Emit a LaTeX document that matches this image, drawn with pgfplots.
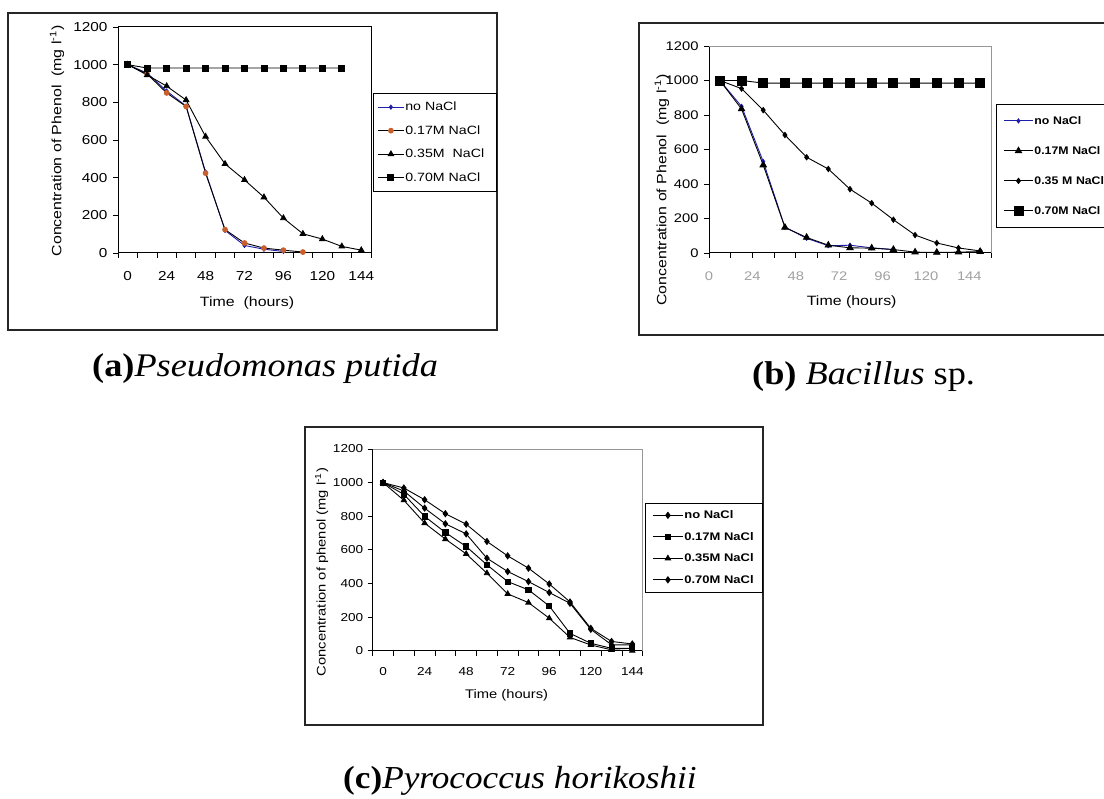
\documentclass[border=0pt]{standalone}
\usepackage{fontspec}
\usepackage{pgfplots}
\pgfplotsset{compat=1.18}
\newfontfamily\chartfont[FakeStretch=1.18]{Liberation Sans}
\newfontfamily\legfont[FakeStretch=1.12]{Liberation Sans}
\newfontfamily\capfont[FakeStretch=1.1]{Liberation Serif}
\definecolor{nacl0}{RGB}{30,30,170}
\definecolor{orangem}{RGB}{200,95,45}
\definecolor{bordergray}{RGB}{150,150,150}
\definecolor{ticklblgray}{RGB}{160,160,160}
\newcommand{\fs}[1]{\fontsize{#1}{#1}\selectfont}

\pgfplotsset{
  chartbase/.style={
    scale only axis, clip=false,
    axis lines*=left,
    axis line style={black, line width=1pt},
    tick align=outside,
    major tick length=5pt, minor tick length=5pt,
    tick style={black, line width=0.8pt},
    ymin=0, ymax=1200, ytick={0,200,...,1200},
    yticklabels={0,200,400,600,800,1000,1200},
    every axis plot/.append style={line width=0.9pt},
    legend cell align=left,
  },
}

\begin{document}
\begin{tikzpicture}[x=1pt,y=1pt]
\useasboundingbox (0,0) rectangle (1104,799);
\begin{scope}
\clip (0,0) rectangle (1104,799);

% frames
\draw[line width=1.2pt, black!85] (8,469) rectangle (497,786);
\draw[line width=1.2pt, black!85] (639,464) rectangle (1120,776);
\draw[line width=1.2pt, black!85] (305,74) rectangle (763,372);

% ---------------- (a) ----------------
\begin{axis}[chartbase,
  at={(118pt,546pt)}, anchor=south west, width=253pt, height=226pt,
  xmin=-6, xmax=150,
  xtick={0,24,...,144}, xticklabels={0,24,48,72,96,120,144},
  major x tick style={draw=none},
  minor xtick={-6,6,...,150},
  ticklabel style={font=\chartfont\fs{13}},
  xticklabel style={yshift=-10pt},
  yticklabel style={xshift=-2pt},
  xlabel={Time~~(hours)}, ylabel={Concentration of Phenol~~(mg l\textsuperscript{-1})},
  label style={font=\chartfont\fs{13.5}},
  xlabel style={at={(axis description cs:0.510,-0.221)}, anchor=center},
  ylabel style={at={(axis description cs:-0.241,0.496)}, anchor=center},
  legend image code/.code={\draw[mark repeat=2,mark phase=2] plot coordinates {(0pt,0pt) (13pt,0pt) (26pt,0pt)};},
  legend style={at={(axis description cs:1.008,0.708)}, anchor=north west,
    draw=black, line width=0.9pt, inner xsep=4pt, inner ysep=2pt,
    font=\chartfont\fs{12}, row sep=0pt,
    nodes={inner sep=1pt, text width=86pt, minimum height=23.5pt}},
]
\draw[black, line width=1pt] (rel axis cs:0,1) -- (rel axis cs:1,1) -- (rel axis cs:1,0);
\addplot[nacl0, mark=diamond*, mark size=2pt, mark options={fill=nacl0}] coordinates {
 (0,1000) (12,955) (24,860) (36,780) (48,430) (60,120) (72,40) (84,20) (96,8) };
\addlegendentry{no NaCl}
\addplot[black, mark=*, mark size=2.4pt, mark options={fill=orangem, draw=orangem}] coordinates {
 (0,1000) (12,950) (24,850) (36,778) (48,424) (60,124) (72,53) (84,26) (96,15) (108,5) };
\addlegendentry{0.17M NaCl}
\addplot[black, mark=triangle*, mark size=3.2pt] coordinates {
 (0,1000) (12,945) (24,886) (36,812) (48,618) (60,473) (72,388) (84,296) (96,185) (108,102) (120,74) (132,35) (144,15) };
\addlegendentry{0.35M\ \ NaCl}
\addplot[black, mark=square*, mark size=3pt] coordinates {
 (0,1000) (12,982) (24,982) (36,982) (48,982) (60,982) (72,982) (84,982) (96,982) (108,982) (120,982) (132,982) };
\addlegendentry{0.70M NaCl}
\end{axis}

% ---------------- (b) ----------------
\begin{axis}[chartbase,
  at={(709pt,546pt)}, anchor=south west, width=282pt, height=207pt,
  xmin=0, xmax=156,
  xtick={0,12,...,156}, xticklabels={0,,24,,48,,72,,96,,120,,144,,},
  ticklabel style={font=\chartfont\fs{12.5}},
  xticklabel style={yshift=-10pt, text=ticklblgray},
  yticklabel style={xshift=-2pt},
  xlabel={Time (hours)}, ylabel={Concentration of Phenol~~(mg l\textsuperscript{-1})},
  label style={font=\chartfont\fs{13.5}},
  xlabel style={at={(axis description cs:0.506,-0.237)}, anchor=center},
  ylabel style={at={(axis description cs:-0.167,0.304)}, anchor=center},
  legend image code/.code={\draw[mark repeat=2,mark phase=2] plot coordinates {(0pt,0pt) (14.5pt,0pt) (29pt,0pt)};},
  legend style={at={(axis description cs:1.018,0.720)}, anchor=north west,
    draw=black, line width=0.9pt, inner xsep=7pt, inner ysep=1.5pt,
    font=\legfont\bfseries\fs{11}, row sep=0pt,
    nodes={inner sep=1pt, text width=95pt, minimum height=30pt}},
]
\draw[bordergray, line width=0.9pt] (rel axis cs:0,1) -- (rel axis cs:1,1) -- (rel axis cs:1,0);
\addplot[nacl0, mark=diamond*, mark size=2pt, mark options={fill=nacl0}] coordinates {
 (6,1000) (18,850) (30,530) (42,150) (54,85) (66,42) (78,45) (90,30) (102,20) };
\addlegendentry{no NaCl}
\addplot[black, mark=triangle*, mark size=3.6pt] coordinates {
 (6,1000) (18,835) (30,510) (42,148) (54,90) (66,45) (78,30) (90,28) (102,20) (114,5) (126,3) (138,5) (150,8) };
\addlegendentry{0.17M NaCl}
\addplot[black, mark=diamond*, mark size=2.6pt] coordinates {
 (6,1000) (18,953) (30,828) (42,684) (54,555) (66,487) (78,370) (90,289) (102,193) (114,104) (126,58) (138,29) (150,12) };
\addlegendentry{0.35 M NaCl}
\addplot[black, mark=square*, mark size=4.5pt] coordinates {
 (6,1000) (18,1000) (30,985) (42,985) (54,985) (66,985) (78,985) (90,985) (102,985) (114,985) (126,985) (138,985) (150,985) };
\addlegendentry{0.70M NaCl}
\end{axis}

% ---------------- (c) ----------------
\begin{axis}[chartbase,
  at={(372.7pt,148.3pt)}, anchor=south west, width=270pt, height=201.7pt,
  xmin=-6, xmax=150,
  xtick={0,24,...,144}, xticklabels={0,24,48,72,96,120,144},
  major x tick style={draw=none},
  minor xtick={-6,6,...,150},
  ticklabel style={font=\chartfont\fs{11.5}},
  xticklabel style={yshift=-8pt},
  yticklabel style={xshift=-1pt},
  xlabel={Time (hours)}, ylabel={Concentration of phenol (mg l\textsuperscript{-1})},
  label style={font=\chartfont\fs{12.5}},
  xlabel style={at={(axis description cs:0.496,-0.220)}, anchor=center},
  ylabel style={at={(axis description cs:-0.189,0.390)}, anchor=center},
  legend image code/.code={\draw[mark repeat=2,mark phase=2] plot coordinates {(0pt,0pt) (15pt,0pt) (30pt,0pt)};},
  legend style={at={(axis description cs:1.0085,0.734)}, anchor=north west,
    draw=black, line width=0.9pt, inner xsep=7pt, inner ysep=1.5pt,
    font=\chartfont\bfseries\fs{11}, row sep=0pt,
    nodes={inner sep=1pt, text width=70pt, minimum height=21.5pt}},
]
\draw[bordergray, line width=0.9pt] (rel axis cs:0,1) -- (rel axis cs:1,1) -- (rel axis cs:1,0);
\addplot[black, mark=diamond*, mark size=3pt] coordinates {
 (0,1000) (12,968) (24,898) (36,815) (48,753) (60,650) (72,564) (84,491) (96,397) (108,290) (120,133) (132,55) (144,40) };
\addlegendentry{no NaCl}
\addplot[black, mark=square*, mark size=2.6pt] coordinates {
 (0,1000) (12,930) (24,799) (36,703) (48,620) (60,511) (72,411) (84,362) (96,266) (108,103) (120,44) (132,14) (144,14) };
\addlegendentry{0.17M NaCl}
\addplot[black, mark=triangle*, mark size=3pt] coordinates {
 (0,1000) (12,895) (24,759) (36,664) (48,576) (60,461) (72,338) (84,286) (96,193) (108,79) (120,34) (132,5) (144,0) };
\addlegendentry{0.35M NaCl}
\addplot[black, mark=diamond*, mark size=3pt] coordinates {
 (0,1000) (12,950) (24,848) (36,755) (48,695) (60,550) (72,471) (84,411) (96,346) (108,282) (120,127) (132,35) (144,35) };
\addlegendentry{0.70M NaCl}
\end{axis}

% captions
\node[anchor=west, inner sep=0pt] at (92,430) {\capfont\fs{33}\textbf{(a)}\textit{Pseudomonas putida}};
\node[anchor=west, inner sep=0pt] at (752,422) {\capfont\fs{33}\textbf{(b)} \textit{Bacillus} sp.};
\node[anchor=west, inner sep=0pt] at (343,18) {\capfont\fs{32}\textbf{(c)}\textit{Pyrococcus horikoshii}};
\end{scope}
\end{tikzpicture}
\end{document}
